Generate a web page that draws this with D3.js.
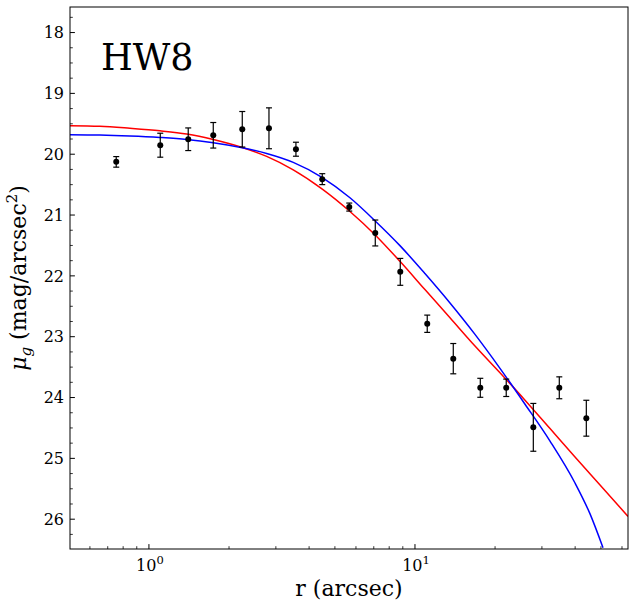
<!DOCTYPE html>
<html>
<head>
<meta charset="utf-8">
<style>
  body { margin: 0; background: #fff; }
  text { font-family: "DejaVu Serif", serif; fill: #000; }
</style>
</head>
<body>
<div id="container"></div>
<script src="https://cdn.jsdelivr.net/npm/d3@7"></script>
<script>

// surface brightness profile points (r in arcsec, mu_g in mag/arcsec^2)
var radius = [0.7535, 1.103, 1.405, 1.745, 2.243, 2.826, 3.569, 4.482, 5.662, 7.092,
              8.805, 11.12, 13.93, 17.60, 22.03, 27.85, 34.87, 44.06];
var mu = [20.126, 19.852, 19.754, 19.689, 19.590, 19.574, 19.918, 20.410, 20.869, 21.295,
          21.934, 22.787, 23.361, 23.840, 23.840, 24.490, 23.840, 24.340];
var muErr = [0.087, 0.197, 0.186, 0.210, 0.292, 0.336, 0.115, 0.090, 0.066, 0.213,
             0.221, 0.142, 0.249, 0.156, 0.143, 0.393, 0.180, 0.295];

// model curves
var redR = [0.505, 0.654, 0.848, 1.100, 1.386, 1.745, 2.243, 2.770, 3.487, 4.470, 5.697,
            7.072, 8.780, 10.90, 13.54, 16.81, 20.87, 25.92, 32.18, 39.95, 49.61, 63.22];
var redMu = [19.531, 19.541, 19.574, 19.615, 19.667, 19.757, 19.889, 20.036, 20.257, 20.569, 20.941,
             21.323, 21.761, 22.225, 22.689, 23.154, 23.593, 24.044, 24.511, 24.979, 25.438, 25.954];

var blueR = [0.505, 0.654, 0.848, 1.100, 1.386, 1.745, 2.243, 2.770, 3.487, 4.470, 5.697,
             7.072, 8.780, 10.90, 13.54, 16.81, 20.87, 25.92, 32.18, 39.95, 45.50, 50.91];
var blueMu = [19.679, 19.684, 19.700, 19.725, 19.757, 19.810, 19.893, 19.987, 20.134, 20.380, 20.716,
              21.093, 21.503, 21.962, 22.446, 22.962, 23.520, 24.110, 24.716, 25.405, 25.913, 26.470];

var yTicks = [18, 19, 20, 21, 22, 23, 24, 25, 26];
var xTicks = [1, 10];
var xTickExp = ["0", "1"];

var margin = {top: 7, right: 6, bottom: 59, left: 70},
    width = 634 - margin.left - margin.right,
    height = 608 - margin.top - margin.bottom;

var svg = d3.select("#container")
  .append("svg")
    .attr("width", 634)
    .attr("height", 608)
  .append("g")
    .attr("transform", "translate(" + margin.left + "," + margin.top + ")");

var x = d3.scaleLog()
  .domain([0.505, 63.2])
  .range([0, width]);

var y = d3.scaleLinear()
  .domain([17.58, 26.49])
  .range([0, height]);

svg.append("clipPath")
    .attr("id", "clip")
  .append("rect")
    .attr("width", width)
    .attr("height", height);

// minor ticks
var xMinor = [];
[0.1, 1, 10].forEach(function(dec) {
  for (var k = 2; k <= 9; k++) {
    var v = k * dec;
    if (v > x.domain()[0] && v < x.domain()[1]) xMinor.push(v);
  }
});
var yMinor = [];
for (var v = 17.75; v < 26.5; v += 0.25) {
  if (Math.abs(v - Math.round(v)) > 0.01) yMinor.push(v);
}

svg.append("g")
  .selectAll("line")
  .data(xMinor)
  .enter()
  .append("line")
    .attr("x1", function(d) { return x(d); })
    .attr("x2", function(d) { return x(d); })
    .attr("y1", height)
    .attr("y2", height - 2.8)
    .attr("stroke", "#000")
    .attr("stroke-width", 0.8);

svg.append("g")
  .selectAll("line")
  .data(xTicks)
  .enter()
  .append("line")
    .attr("x1", function(d) { return x(d); })
    .attr("x2", function(d) { return x(d); })
    .attr("y1", height)
    .attr("y2", height - 4.9)
    .attr("stroke", "#000")
    .attr("stroke-width", 1);

svg.append("g")
  .selectAll("line")
  .data(yMinor)
  .enter()
  .append("line")
    .attr("x1", 0)
    .attr("x2", 2.8)
    .attr("y1", function(d) { return y(d); })
    .attr("y2", function(d) { return y(d); })
    .attr("stroke", "#000")
    .attr("stroke-width", 0.8);

svg.append("g")
  .selectAll("line")
  .data(yTicks)
  .enter()
  .append("line")
    .attr("x1", 0)
    .attr("x2", 4.9)
    .attr("y1", function(d) { return y(d); })
    .attr("y2", function(d) { return y(d); })
    .attr("stroke", "#000")
    .attr("stroke-width", 1);

// tick labels
svg.append("g")
  .selectAll("text")
  .data(yTicks)
  .enter()
  .append("text")
    .attr("x", -6)
    .attr("y", function(d) { return y(d); })
    .attr("dy", "0.36em")
    .attr("text-anchor", "end")
    .style("font-size", "16px")
    .text(function(d) { return d; });

xTicks.forEach(function(d, i) {
  var t = svg.append("text")
    .attr("x", x(d) + 1)
    .attr("y", height + 22)
    .attr("text-anchor", "middle")
    .style("font-size", "16px");
  t.append("tspan").text("10");
  t.append("tspan")
    .attr("dy", -7)
    .style("font-size", "11.5px")
    .text(xTickExp[i]);
});

// axis labels
svg.append("text")
  .attr("text-anchor", "middle")
  .attr("x", width / 2)
  .attr("y", height + 47)
  .style("font-size", "22px")
  .text("r (arcsec)");

var ylab = svg.append("text")
  .attr("text-anchor", "middle")
  .attr("transform", "translate(-44," + (height / 2) + ") rotate(-90)")
  .style("font-size", "22px");
ylab.append("tspan").style("font-style", "italic").text("μ");
ylab.append("tspan").attr("dy", 5).style("font-size", "15px").style("font-style", "italic").text("g");
ylab.append("tspan").attr("dy", -5).text(" (mag/arcsec");
ylab.append("tspan").attr("dy", -9).style("font-size", "15px").text("2");
ylab.append("tspan").attr("dy", 9).text(")");

// model curves
var line = d3.line()
  .x(function(d) { return x(d[0]); })
  .y(function(d) { return y(d[1]); })
  .curve(d3.curveMonotoneX);

var plot = svg.append("g").attr("clip-path", "url(#clip)");

plot.append("path")
  .datum(d3.zip(redR, redMu))
  .attr("d", line)
  .attr("fill", "none")
  .attr("stroke", "#ff0000")
  .attr("stroke-width", 1.5);

plot.append("path")
  .datum(d3.zip(blueR, blueMu))
  .attr("d", line)
  .attr("fill", "none")
  .attr("stroke", "#0000ff")
  .attr("stroke-width", 1.5);

// error bars + points
var pts = d3.zip(radius, mu, muErr);

var eb = plot.append("g")
  .selectAll("g")
  .data(pts)
  .enter()
  .append("g");

eb.append("line")
  .attr("x1", function(d) { return x(d[0]); })
  .attr("x2", function(d) { return x(d[0]); })
  .attr("y1", function(d) { return y(d[1] - d[2]); })
  .attr("y2", function(d) { return y(d[1] + d[2]); })
  .attr("stroke", "#000")
  .attr("stroke-width", 1.2);

[-1, 1].forEach(function(s) {
  eb.append("line")
    .attr("x1", function(d) { return x(d[0]) - 3; })
    .attr("x2", function(d) { return x(d[0]) + 3; })
    .attr("y1", function(d) { return y(d[1] + s * d[2]); })
    .attr("y2", function(d) { return y(d[1] + s * d[2]); })
    .attr("stroke", "#000")
    .attr("stroke-width", 1.2);
});

eb.append("circle")
  .attr("cx", function(d) { return x(d[0]); })
  .attr("cy", function(d) { return y(d[1]); })
  .attr("r", 3)
  .attr("fill", "#000");

// frame
svg.append("rect")
  .attr("width", width)
  .attr("height", height)
  .attr("fill", "none")
  .attr("stroke", "#000")
  .attr("stroke-width", 1);

// object name
svg.append("text")
  .attr("x", 31)
  .attr("y", 63)
  .style("font-size", "36.5px")
  .text("HW8");

</script>
</body>
</html>
